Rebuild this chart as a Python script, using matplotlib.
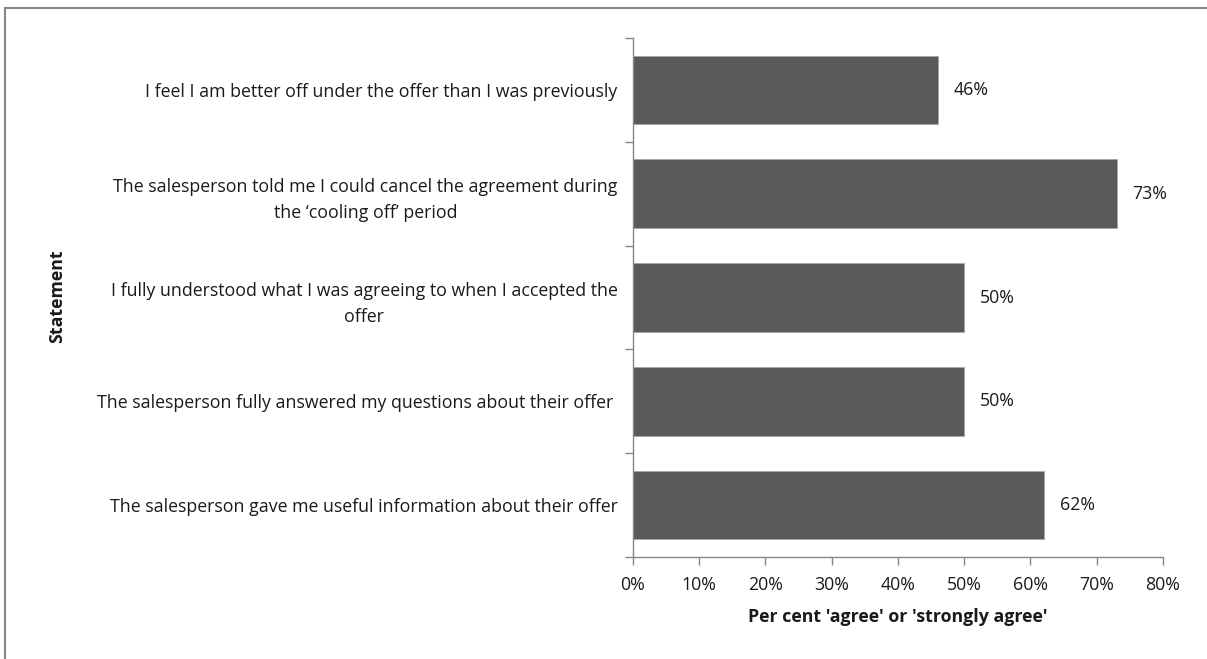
import numpy as np
import matplotlib.pyplot as plt
from matplotlib.patches import Rectangle
from matplotlib.ticker import FuncFormatter

plt.rcParams['font.family'] = ['Open Sans', 'DejaVu Sans']

# statements listed top to bottom
statements = [
    "I feel I am better off under the offer than I was previously",
    "The salesperson told me I could cancel the agreement during\nthe \u2018cooling off\u2019 period",
    "I fully understood what I was agreeing to when I accepted the\noffer",
    "The salesperson fully answered my questions about their offer ",
    "The salesperson gave me useful information about their offer",
]
agree_pct = [46, 73, 50, 50, 62]

bar_color = '#595959'
axis_color = '#868686'
text_color = '#1a1a1a'
fs = 12.8

fig = plt.figure(figsize=(12.07, 6.59), dpi=100)
ax = fig.add_axes([0.5244, 0.1548, 0.4391, 0.7875])

n = len(statements)
pos = np.arange(n)[::-1]
ax.barh(pos, agree_pct, height=0.66, color=bar_color,
        edgecolor='#a6a6a6', linewidth=0.6)

for y, v in zip(pos, agree_pct):
    ax.text(v + 2.4, y, '%d%%' % v, va='center', ha='left',
            fontsize=fs, color=text_color)

ax.set_xlim(0, 80)
ax.set_ylim(-0.5, n - 0.5)
ax.set_xticks(np.arange(0, 81, 10))
ax.xaxis.set_major_formatter(FuncFormatter(lambda x, p: '%d%%' % x))

# tick marks between categories, labels at the bar centres
ax.set_yticks(np.arange(-0.5, n, 1.0))
ax.set_yticklabels([])
ax.set_yticks(pos, minor=True)
ax.set_yticklabels(statements, minor=True)
for lbl in ax.get_yticklabels(minor=True):
    lbl.set_multialignment('center')
    lbl.set_linespacing(1.6)

ax.tick_params(axis='y', which='major', direction='out', length=6,
               color=axis_color, width=1)
ax.tick_params(axis='y', which='minor', length=0, pad=11,
               labelsize=fs, labelcolor=text_color)
ax.tick_params(axis='x', direction='out', length=6, color=axis_color,
               width=1, pad=8, labelsize=fs, labelcolor=text_color)

for side in ['top', 'right']:
    ax.spines[side].set_visible(False)
for side in ['left', 'bottom']:
    ax.spines[side].set_color(axis_color)
    ax.spines[side].set_linewidth(1)

ax.set_xlabel("Per cent 'agree' or 'strongly agree'", fontsize=fs,
              fontweight='bold', labelpad=10, color=text_color)
fig.text(0.047, 0.55, 'Statement', rotation=90, ha='center', va='center',
         fontsize=fs, fontweight='bold', color=text_color)

# chart area border, running off the right and bottom edges
fig.patches.append(Rectangle((5 / 1207, -10 / 659), 1220 / 1207, 661 / 659,
                             transform=fig.transFigure, fill=False,
                             edgecolor='#868686', linewidth=1.5))

fig.savefig('out.png', dpi=100)
